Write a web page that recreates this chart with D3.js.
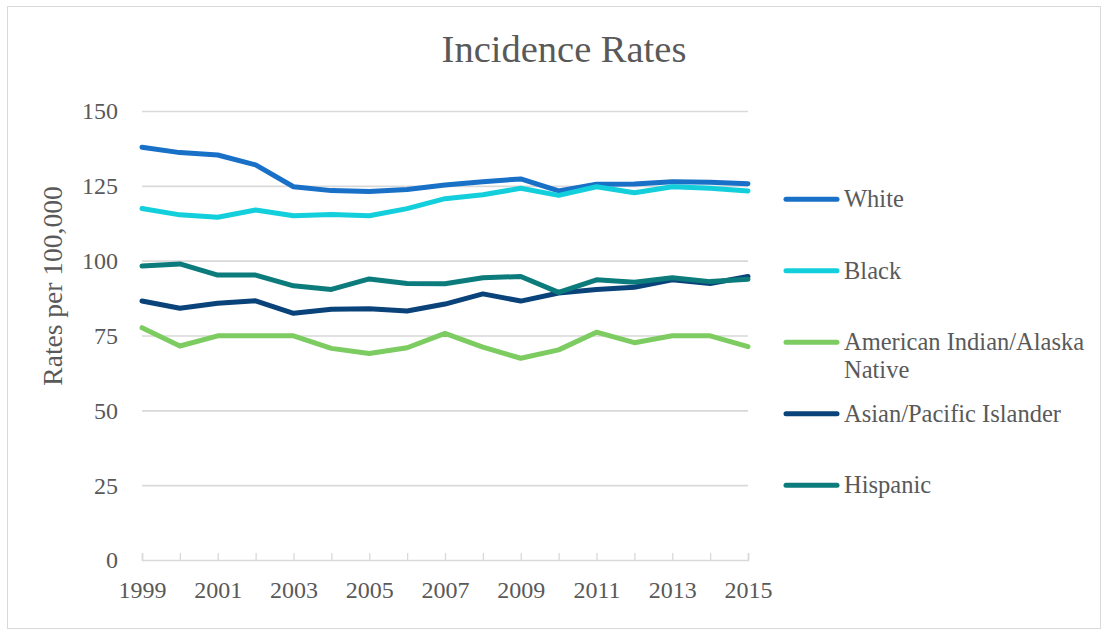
<!DOCTYPE html>
<html>
<head>
<meta charset="utf-8">
<script src="https://cdn.jsdelivr.net/npm/d3@7"></script>
<style>
  html, body { margin: 0; padding: 0; background: #ffffff; }
  svg { display: block; }
  text { font-family: "Liberation Serif", "Times New Roman", serif; fill: #595959; }
</style>
</head>
<body>
<svg id="chart" width="1111" height="635"></svg>
<script>
// Cancer incidence rates per 100,000, by race/ethnicity, 1999–2015
const years = [1999, 2000, 2001, 2002, 2003, 2004, 2005, 2006, 2007, 2008, 2009, 2010, 2011, 2012, 2013, 2014, 2015];

const white    = [137.9, 136.1, 135.3, 132.0, 124.7, 123.4, 123.1, 123.8, 125.3, 126.4, 127.3, 123.3, 125.5, 125.6, 126.4, 126.2, 125.7];
const black    = [117.4, 115.3, 114.5, 116.9, 115.0, 115.4, 115.0, 117.4, 120.7, 122.0, 124.2, 121.8, 124.7, 122.7, 124.7, 124.2, 123.3];
const aian     = [77.6, 71.5, 74.9, 74.9, 74.9, 70.7, 69.0, 70.9, 75.7, 71.1, 67.4, 70.2, 76.1, 72.6, 74.9, 74.9, 71.3];
const asianPI  = [86.5, 84.1, 85.8, 86.6, 82.4, 83.8, 83.9, 83.2, 85.5, 88.9, 86.5, 89.2, 90.4, 91.1, 93.6, 92.4, 94.7];
const hispanic = [98.2, 98.9, 95.2, 95.2, 91.6, 90.4, 93.9, 92.4, 92.3, 94.3, 94.7, 89.4, 93.6, 92.8, 94.3, 93.0, 93.8];

const seriesNames  = ["White", "Black", "American Indian/Alaska Native", "Asian/Pacific Islander", "Hispanic"];
const seriesValues = [white, black, aian, asianPI, hispanic];
const seriesColors = ["#1870C7", "#13CFDC", "#7CCC62", "#0A437A", "#0C7B7C"];

const yTicks = [0, 25, 50, 75, 100, 125, 150];
const xLabelYears = [1999, 2001, 2003, 2005, 2007, 2009, 2011, 2013, 2015];

const svg = d3.select("#chart");
const gridColor = "#d9d9d9";

// outer chart border
svg.append("rect")
  .attr("x", 7.5).attr("y", 6.5)
  .attr("width", 1093).attr("height", 622)
  .attr("fill", "none")
  .attr("stroke", gridColor)
  .attr("stroke-width", 1);

const x = d3.scaleLinear().domain([1999, 2015]).range([142, 748]);
const y = d3.scaleLinear().domain([0, 150]).range([560, 111]);

// horizontal gridlines + y labels
const yAxis = svg.append("g")
  .attr("transform", `translate(${x.range()[0]},0)`)
  .call(d3.axisLeft(y)
    .tickValues(yTicks)
    .tickSizeInner(-(x.range()[1] - x.range()[0]))
    .tickSizeOuter(0)
    .tickPadding(24)
    .tickFormat(d3.format("d")));
yAxis.select(".domain").remove();
yAxis.selectAll(".tick line")
  .attr("stroke", gridColor)
  .attr("stroke-width", 1.6)
  .filter(d => d === 0).remove();
yAxis.selectAll(".tick text")
  .attr("fill", "#595959")
  .style("font-size", "24px")
  .attr("dy", "0.33em");

// category axis with inward ticks at every year
const xAxis = svg.append("g")
  .attr("transform", `translate(0,${y(0)})`)
  .call(d3.axisBottom(x)
    .tickValues(years)
    .tickSizeInner(-7)
    .tickSizeOuter(-7)
    .tickPadding(21)
    .tickFormat(d => xLabelYears.includes(d) ? String(d) : ""));
xAxis.select(".domain")
  .attr("stroke", gridColor)
  .attr("stroke-width", 1.6);
xAxis.selectAll(".tick line")
  .attr("stroke", gridColor)
  .attr("stroke-width", 1.3);
xAxis.selectAll(".tick text")
  .attr("fill", "#595959")
  .style("font-size", "24px");

// series lines
const line = d3.line()
  .x((d, i) => x(years[i]))
  .y(d => y(d));

svg.append("g")
  .selectAll("path")
  .data(seriesValues)
  .join("path")
  .attr("d", line)
  .attr("fill", "none")
  .attr("stroke", (d, i) => seriesColors[i])
  .attr("stroke-width", 5)
  .attr("stroke-linejoin", "round")
  .attr("stroke-linecap", "round");

// title
svg.append("text")
  .attr("x", 564).attr("y", 61.5)
  .attr("text-anchor", "middle")
  .style("font-size", "38.5px")
  .text("Incidence Rates");

// y-axis title
svg.append("text")
  .attr("transform", `translate(62,${(185 + 387) / 2}) rotate(-90)`)
  .attr("text-anchor", "middle")
  .style("font-size", "27.5px")
  .text("Rates per 100,000");

// legend
const legendTop = 199.3, legendStep = 71.5;
const legend = svg.append("g");
seriesNames.forEach((name, i) => {
  const ly = legendTop + i * legendStep;
  legend.append("line")
    .attr("x1", 786).attr("x2", 837)
    .attr("y1", ly).attr("y2", ly)
    .attr("stroke", seriesColors[i])
    .attr("stroke-width", 5)
    .attr("stroke-linecap", "round");
  const t = legend.append("text")
    .attr("x", 844).attr("y", ly + 8)
    .style("font-size", "24.5px");
  if (name === "American Indian/Alaska Native") {
    t.append("tspan").attr("x", 844).text("American Indian/Alaska");
    t.append("tspan").attr("x", 844).attr("dy", 28).text("Native");
  } else {
    t.text(name);
  }
});
</script>
</body>
</html>
